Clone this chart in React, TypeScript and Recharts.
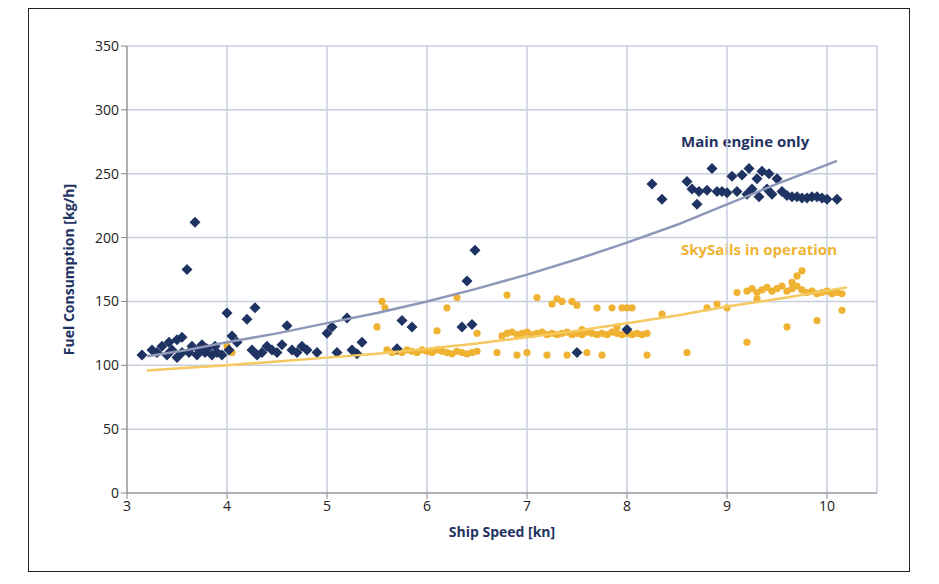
import React from "react";
import { ScatterChart, Scatter, XAxis, YAxis, CartesianGrid, Label } from "recharts";

const xTicks = [3, 4, 5, 6, 7, 8, 9, 10];
const yTicks = [0, 50, 100, 150, 200, 250, 300, 350];

const mainEngine: [number, number][] = [
  [3.15, 108], [3.25, 112], [3.3, 110], [3.35, 115], [3.4, 108], [3.42, 118], [3.45, 112], [3.5, 120],
  [3.5, 106], [3.55, 110], [3.55, 122], [3.6, 175], [3.62, 110], [3.65, 115], [3.68, 212], [3.7, 108],
  [3.72, 112], [3.75, 116], [3.78, 110], [3.8, 113], [3.85, 108], [3.88, 115], [3.9, 110], [3.95, 108],
  [4.0, 141], [4.02, 112], [4.05, 123], [4.1, 118], [4.2, 136], [4.25, 112], [4.28, 145], [4.3, 108],
  [4.35, 110], [4.4, 115], [4.45, 112], [4.5, 110], [4.55, 116], [4.6, 131], [4.65, 112], [4.7, 110],
  [4.75, 115], [4.8, 112], [4.9, 110], [5.0, 125], [5.05, 130], [5.1, 110], [5.2, 137], [5.25, 112],
  [5.3, 109], [5.35, 118], [5.7, 113], [5.75, 135], [5.85, 130], [6.35, 130], [6.4, 166], [6.45, 132],
  [6.48, 190], [7.5, 110], [8.0, 128], [8.25, 242], [8.35, 230], [8.6, 244], [8.65, 238], [8.7, 226],
  [8.72, 236], [8.8, 237], [8.85, 254], [8.9, 236], [8.95, 236], [9.0, 235], [9.05, 248], [9.1, 236],
  [9.15, 249], [9.2, 234], [9.22, 254], [9.25, 238], [9.3, 246], [9.32, 232], [9.35, 252], [9.4, 238],
  [9.42, 250], [9.45, 234], [9.5, 246], [9.55, 236], [9.6, 233], [9.65, 232], [9.7, 232], [9.75, 231],
  [9.8, 231], [9.85, 232], [9.9, 232], [9.95, 231], [10.0, 230], [10.1, 230],
];

const skySails: [number, number][] = [
  [4.0, 115], [4.05, 110], [5.5, 130], [5.55, 150], [5.58, 145], [5.6, 112], [5.65, 110], [5.7, 111],
  [5.75, 110], [5.8, 112], [5.85, 111], [5.9, 110], [5.95, 112], [6.0, 111], [6.05, 110], [6.1, 112],
  [6.15, 111], [6.2, 110], [6.25, 109], [6.3, 111], [6.35, 110], [6.4, 109], [6.45, 110], [6.5, 111],
  [6.1, 127], [6.2, 145], [6.3, 153], [6.5, 125], [6.7, 110], [6.8, 155], [6.75, 123], [6.8, 125],
  [6.85, 126], [6.9, 124], [6.95, 125], [7.0, 126], [7.05, 124], [7.1, 125], [7.15, 126], [7.2, 124],
  [7.25, 125], [7.3, 124], [7.35, 125], [7.4, 126], [7.45, 124], [7.5, 125], [7.55, 124], [7.6, 126],
  [7.65, 125], [7.7, 124], [7.75, 125], [7.8, 124], [7.85, 126], [7.9, 125], [7.95, 124], [8.0, 125],
  [8.05, 124], [8.1, 125], [8.15, 124], [8.2, 125], [6.9, 108], [7.0, 110], [7.1, 153], [7.2, 108],
  [7.25, 148], [7.3, 152], [7.35, 150], [7.4, 108], [7.45, 150], [7.5, 147], [7.55, 128], [7.6, 110],
  [7.7, 145], [7.75, 108], [7.85, 145], [7.9, 130], [7.95, 145], [8.0, 145], [8.05, 145], [8.2, 108],
  [8.35, 140], [8.6, 110], [8.8, 145], [8.9, 148], [9.0, 145], [9.1, 157], [9.2, 118], [9.3, 152],
  [9.2, 158], [9.25, 160], [9.3, 157], [9.35, 159], [9.4, 161], [9.45, 158], [9.5, 160], [9.55, 162],
  [9.6, 158], [9.65, 160], [9.7, 162], [9.75, 159], [9.8, 157], [9.85, 158], [9.9, 156], [9.95, 157],
  [10.0, 158], [10.05, 156], [10.1, 157], [10.15, 156], [9.6, 130], [9.65, 165], [9.7, 170], [9.75, 174],
  [9.9, 135], [10.15, 143],
];

const mainTrend: [number, number][] = [
  [3.2, 107], [3.6, 112], [4, 118], [4.5, 125], [5, 133], [5.5, 141], [6, 150], [6.5, 160], [7, 171],
  [7.5, 183], [8, 196], [8.5, 210], [9, 226], [9.5, 242], [10.1, 260],
];
const skyTrend: [number, number][] = [
  [3.2, 96], [3.6, 98], [4, 100], [4.5, 103], [5, 106], [5.5, 109], [6, 113], [6.5, 117], [7, 122],
  [7.5, 127], [8, 133], [8.5, 139], [9, 146], [9.6, 153], [10.2, 161],
];

const toPts = (a: [number, number][]) => a.map(([x, y]) => ({ x, y }));

const NAVY = "#1f3362";
const ORANGE = "#f0b232";

const Diamond = (p: any) => (
  <path
    d={`M${p.cx},${p.cy - 5.5}L${p.cx + 5.5},${p.cy}L${p.cx},${p.cy + 5.5}L${p.cx - 5.5},${p.cy}Z`}
    fill={NAVY}
  />
);
const Dot = (p: any) => <circle cx={p.cx} cy={p.cy} r={3.6} fill={ORANGE} />;
const None = () => null;

export default function App() {
  return (
    <div style={{ position: "absolute", left: 0, top: 0, width: 939, height: 584, background: "#fff", fontFamily: "'Open Sans', sans-serif" }}>
      <div style={{ position: "absolute", left: 28, top: 8, width: 880, height: 562, border: "1px solid #222" }} />
      <div style={{ position: "absolute", left: 681, top: 131, color: NAVY, fontWeight: 700, fontSize: 15 }}>Main engine only</div>
      <div style={{ position: "absolute", left: 681, top: 239, color: ORANGE, fontWeight: 700, fontSize: 15 }}>SkySails in operation</div>
      <ScatterChart width={939} height={584} margin={{ top: 46, right: 62, left: 67, bottom: 61 }} style={{ position: "absolute", left: 0, top: 0 }}>
        <CartesianGrid stroke="#c9cde0" strokeWidth={1.5} />
        <XAxis type="number" dataKey="x" domain={[3, 10.5]} ticks={xTicks} height={30} tick={{ fontSize: 14, fill: "#222" }} axisLine={{ stroke: "#888" }} tickLine={{ stroke: "#888" }}>
          <Label value="Ship Speed [kn]" position="bottom" offset={4} style={{ fontSize: 14, fontWeight: 700, fill: NAVY }} />
        </XAxis>
        <YAxis type="number" dataKey="y" domain={[0, 350]} ticks={yTicks} width={60} tick={{ fontSize: 14, fill: "#222" }} axisLine={{ stroke: "#888" }} tickLine={{ stroke: "#888" }}>
          <Label value="Fuel Consumption [kg/h]" angle={-90} position="insideLeft" offset={2} style={{ fontSize: 14, fontWeight: 700, fill: NAVY, textAnchor: "middle" }} />
        </YAxis>
        <Scatter data={toPts(skySails)} shape={Dot} isAnimationActive={false} />
        <Scatter data={toPts(mainEngine)} shape={Diamond} isAnimationActive={false} />
        <Scatter data={toPts(mainTrend)} line={{ stroke: "#8e97b8", strokeWidth: 2.5 }} lineType="joint" shape={None} isAnimationActive={false} />
        <Scatter data={toPts(skyTrend)} line={{ stroke: "#f5c860", strokeWidth: 2.5 }} lineType="joint" shape={None} isAnimationActive={false} />
      </ScatterChart>
    </div>
  );
}
